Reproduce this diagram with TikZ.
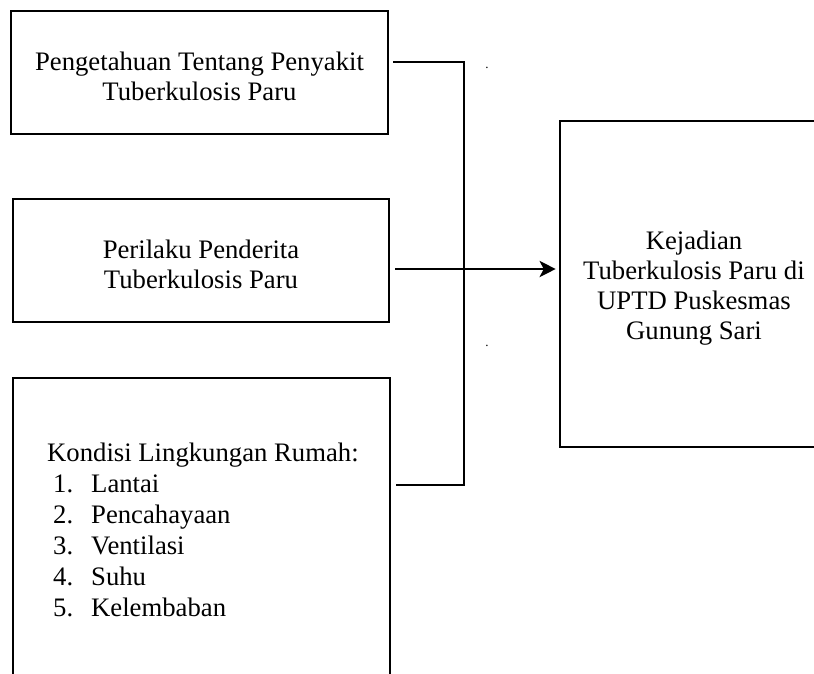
\documentclass[tikz,border=0pt]{standalone}
\usepackage{fontspec}
\setmainfont{Liberation Serif}
\usetikzlibrary{arrows.meta}
\begin{document}
\begin{tikzpicture}[x=1pt,y=-1pt,
  box/.style={draw,line width=2.6pt,rectangle,inner sep=0pt},
  lbl/.style={align=center,font=\fontsize{26.7}{30}\selectfont},
  conn/.style={line width=2.8pt},
  tick/.style={inner sep=0pt,font=\fontsize{13}{13}\selectfont}]
\useasboundingbox (0,0) rectangle (814,673);
\clip (0,0) rectangle (814,673);
% boxes
\node[box,minimum width=377pt,minimum height=123pt] (b1) at (199.5,72.5) {};
\node[lbl] (t1) at (199.5,76) {Pengetahuan Tentang Penyakit\\Tuberkulosis Paru};
\node[box,minimum width=376pt,minimum height=123pt] (b2) at (201,260.5) {};
\node[lbl] (t2) at (201,264) {Perilaku Penderita\\Tuberkulosis Paru};
\node[box,minimum width=377pt,minimum height=330pt] (b3) at (201.5,543) {};
\node[anchor=base west,inner sep=0pt,align=left,font=\fontsize{26.7}{31}\selectfont] (t3) at (47,616)
 {Kondisi Lingkungan Rumah:\\
  \hspace*{6pt}\makebox[38pt][l]{1.}Lantai\\
  \hspace*{6pt}\makebox[38pt][l]{2.}Pencahayaan\\
  \hspace*{6pt}\makebox[38pt][l]{3.}Ventilasi\\
  \hspace*{6pt}\makebox[38pt][l]{4.}Suhu\\
  \hspace*{6pt}\makebox[38pt][l]{5.}Kelembaban};
\node[box,minimum width=268pt,minimum height=326pt] (out) at (694,284) {};
\node[lbl] (t4) at (694,288) {Kejadian\\Tuberkulosis Paru di\\UPTD Puskesmas\\Gunung Sari};
% junction
\coordinate (jt) at (464,62);
\coordinate (jb) at (464,485);
\coordinate (ay) at (0,269);
\draw[conn] ([xshift=4pt]b1.east |- jt) -- (jt) -- (jb) -- ([xshift=5pt]b3.east |- jb);
\draw[conn,-{Stealth[length=16pt,width=16pt,inset=4pt]},shorten >=3pt] ([xshift=5pt]b2.east |- ay) -- (out.west |- ay);
% tiny marks
\node[tick] (d1) at (487,68) {.};
\node[tick] (d2) at (487,346) {.};
\end{tikzpicture}
\end{document}
